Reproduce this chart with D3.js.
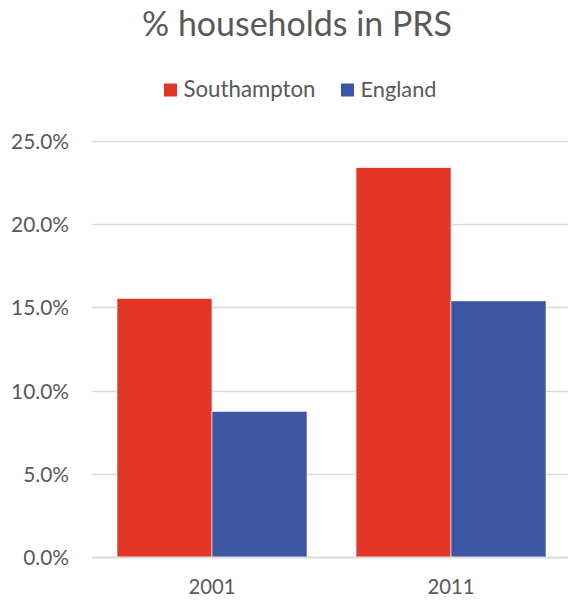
<!DOCTYPE html>
<html>
<head>
<meta charset="utf-8">
<script src="https://cdn.jsdelivr.net/npm/d3@7"></script>
<style>
  html, body { margin: 0; padding: 0; background: #ffffff; }
  svg { display: block; }
  text { font-family: Lato, "Open Sans", sans-serif; fill: #595959; }
</style>
</head>
<body>
<svg id="chart" width="568" height="600"></svg>
<script>
const title = "% households in PRS";
const categories = ["2001", "2011"];
const seriesNames = ["Southampton", "England"];
const southampton = [0.1554, 0.2340];
const england = [0.0875, 0.1539];
const yTicks = [0, 0.05, 0.10, 0.15, 0.20, 0.25];
const colors = ["#E43627", "#3C56A3"];

const seriesValues = [southampton, england];
const svg = d3.select("#chart");

const x = d3.scaleBand().domain(categories).range([92.5, 570.5]).paddingInner(0.205).paddingOuter(0.1025);
const xs = d3.scaleBand().domain(seriesNames).range([0, x.bandwidth()]);
const y = d3.scaleLinear().domain([0, 0.25]).range([557, 141]);

function fit(sel, target) {
  const w = sel.node().getComputedTextLength();
  const fs = parseFloat(sel.attr("font-size"));
  sel.attr("font-size", fs * target / w);
}

// gridlines
svg.append("g").selectAll("line").data(yTicks).join("line")
  .attr("x1", 92).attr("x2", 568)
  .attr("y1", d => Math.round(y(d)) + 0.5).attr("y2", d => Math.round(y(d)) + 0.5)
  .attr("stroke", "#D9D9D9").attr("stroke-width", 1.3);

// bars
const groups = svg.append("g").selectAll("g").data(categories).join("g")
  .attr("transform", d => `translate(${x(d)},0)`);
groups.selectAll("rect").data((c, i) => seriesNames.map((s, j) => ({s, v: seriesValues[j][i], j})))
  .join("rect")
  .attr("x", d => xs(d.s))
  .attr("width", xs.bandwidth())
  .attr("y", d => y(d.v))
  .attr("height", d => y(0) - y(d.v))
  .attr("fill", d => colors[d.j])
  .attr("stroke", "#ffffff").attr("stroke-width", 0.6);

// baseline
svg.append("line").attr("x1", 92).attr("x2", 568)
  .attr("y1", y(0) + 0.5).attr("y2", y(0) + 0.5)
  .attr("stroke", "#D9D9D9").attr("stroke-width", 1.3);

// y axis labels
const yFmt = d3.format(".1%");
const yl = svg.append("g").selectAll("text").data(yTicks).join("text")
  .attr("x", 69).attr("y", d => y(d) + 8)
  .attr("text-anchor", "end").attr("font-size", 20)
  .text(d => yFmt(d));
const w25 = yl.filter(d => d === 0.25).node().getComputedTextLength();
yl.attr("font-size", 20 * 58 / w25);

// x axis labels
const xl = svg.append("g").selectAll("text").data(categories).join("text")
  .attr("x", d => x(d) + x.bandwidth() / 2).attr("y", 594)
  .attr("text-anchor", "middle").attr("font-size", 20)
  .text(d => d);
const w01 = xl.node().getComputedTextLength();
xl.attr("font-size", 20 * 47 / w01);

// title
const t = svg.append("text").attr("x", 297).attr("y", 36)
  .attr("text-anchor", "middle").attr("font-size", 30).text(title);
fit(t, 310);

// legend
const legendX = [164, 341];
const legendW = [132, 76];
const leg = svg.append("g").selectAll("g").data(seriesNames).join("g");
leg.append("rect").attr("x", (d, i) => legendX[i]).attr("y", 83.5)
  .attr("width", 13).attr("height", 13).attr("fill", (d, i) => colors[i]);
leg.append("text").attr("x", (d, i) => legendX[i] + 19.5).attr("y", 97)
  .attr("font-size", 20).text(d => d)
  .each(function(d, i) { fit(d3.select(this), legendW[i]); });
</script>
</body>
</html>
